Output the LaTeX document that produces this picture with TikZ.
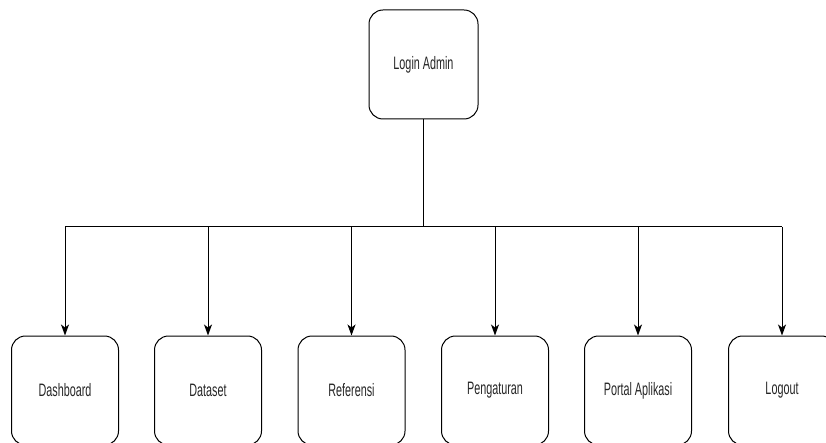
\documentclass[tikz,border=0pt]{standalone}
\usepackage{fontspec}
\setmainfont{Liberation Sans}
\usetikzlibrary{arrows.meta}
\newcommand{\lbl}[1]{\scalebox{0.6}[1]{\fontsize{18}{20}\selectfont #1}}
\tikzset{
  menubox/.style={draw=black, line width=1pt, rounded corners=14pt, minimum width=107pt, minimum height=109pt, inner sep=0pt, align=center, text=black!85},
  conn/.style={draw=black, line width=1pt},
  arr/.style={conn, -{Stealth[length=11pt,width=8pt,inset=3pt]}}
}
\begin{document}
\begin{tikzpicture}[x=1pt,y=1pt]
\useasboundingbox (0,0) rectangle (826,-443);
\clip (0,0) rectangle (826,-443);
\node[menubox, minimum width=109pt] (login) at (423.5,-64.5) {\lbl{Login Admin}};
\node[menubox] (dash) at (65,-390.5) {\lbl{Dashboard}};
\node[menubox] (data) at (208,-390.5) {\lbl{Dataset}};
\node[menubox] (ref) at (351.5,-390.5) {\lbl{Referensi}};
\node[menubox] (peng) at (495,-390.5) {\lbl{Pengaturan}};
\node[menubox] (port) at (638,-390.5) {\lbl{Portal Aplikasi}};
\node[menubox] (logout) at (782,-390.5) {\lbl{Logout}};
\coordinate (bus) at (0,-227);
\draw[conn] (login.south) -- (login.south |- bus);
\draw[conn] (dash.north |- bus) -- (logout.north |- bus);
\foreach \n in {dash,data,ref,peng,port,logout}
  \draw[arr] (\n.north |- bus) -- (\n.north);
\end{tikzpicture}
\end{document}
